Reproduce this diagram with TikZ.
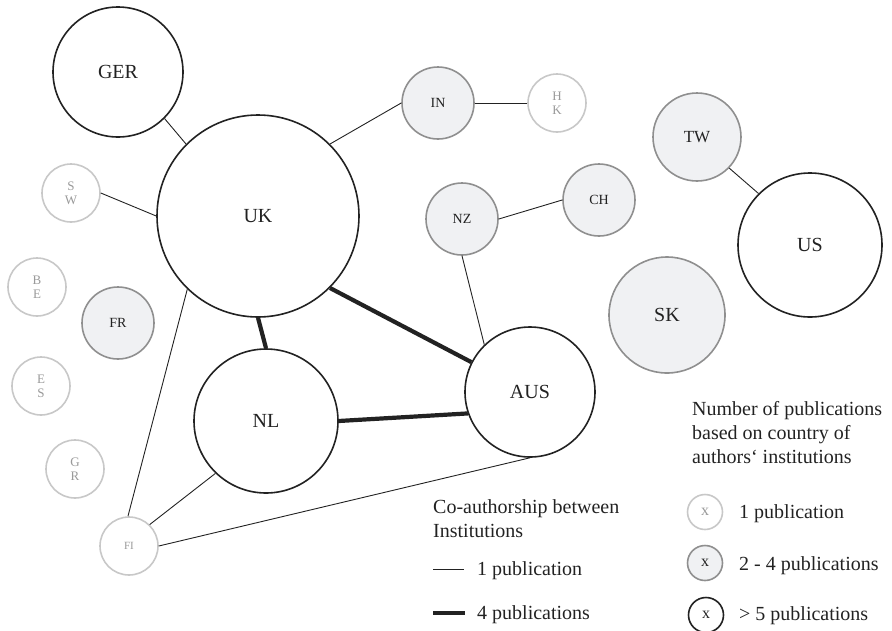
\documentclass[tikz,border=0pt]{standalone}
\usepackage{fontspec}
\setmainfont{Liberation Serif}
\definecolor{inkc}{HTML}{222222}
\definecolor{midline}{HTML}{8F8F8F}
\definecolor{midfill}{HTML}{F0F1F3}
\definecolor{lowline}{HTML}{C8C8C8}
\definecolor{lowtext}{HTML}{9A9A9A}
\tikzset{
  bigc/.style={circle,draw=inkc,line width=1.6pt,fill=white,inner sep=0pt,text=inkc,font=\fontsize{20}{24}\selectfont},
  midc/.style={circle,draw=midline,line width=1.6pt,fill=midfill,inner sep=0pt,text=inkc,font=\fontsize{14}{16}\selectfont},
  lowc/.style={circle,draw=lowline,line width=1.6pt,fill=white,inner sep=0pt,text=lowtext,align=center,font=\fontsize{13}{14}\selectfont},
  onepub/.style={draw=inkc,line width=0.9pt},
  fourpub/.style={draw=inkc,line width=4.2pt},
  legtext/.style={anchor=base west,inner sep=0pt,text=inkc,font=\fontsize{20}{24}\selectfont}
}
\begin{document}
\begin{tikzpicture}[x=1pt,y=-1pt]
\useasboundingbox (0,0) rectangle (892,630);
\node[bigc,minimum size=130pt] (GER) at (118,72) {GER};
\node[bigc,minimum size=202pt] (UK) at (258,216) {UK};
\node[bigc,minimum size=144pt] (NL) at (266,421) {NL};
\node[bigc,minimum size=130pt] (AUS) at (530,392) {AUS};
\node[bigc,minimum size=144pt] (US) at (810,245) {US};
\node[midc,minimum size=116pt,font=\fontsize{20}{24}\selectfont] (SK) at (667,315) {SK};
\node[midc,minimum size=88pt,font=\fontsize{17}{20}\selectfont] (TW) at (697,137) {TW};
\node[midc,minimum size=72pt] (IN) at (438,103) {IN};
\node[midc,minimum size=72pt] (NZ) at (462,219) {NZ};
\node[midc,minimum size=72pt] (CH) at (599,200) {CH};
\node[midc,minimum size=72pt] (FR) at (118,323) {FR};
\node[lowc,minimum size=58pt] (HK) at (557,103) {H\\K};
\node[lowc,minimum size=58pt] (SW) at (71,193) {S\\W};
\node[lowc,minimum size=58pt] (BE) at (37,287) {B\\E};
\node[lowc,minimum size=58pt] (ES) at (41,386) {E\\S};
\node[lowc,minimum size=58pt] (GR) at (75,469) {G\\R};
\node[lowc,minimum size=58pt,font=\fontsize{11}{13}\selectfont] (FI) at (129,546) {FI};
\draw[onepub] (GER.315) -- (UK.135);
\draw[onepub] (SW.0) -- (UK.180);
\draw[onepub] (UK.45) -- (IN.180);
\draw[onepub] (IN.0) -- (HK.180);
\draw[onepub] (NZ.0) -- (CH.180);
\draw[onepub] (NZ.270) -- (AUS.134);
\draw[onepub] (TW.316) -- (US.135);
\draw[onepub] (UK.226) -- (FI.92);
\draw[onepub] (NL.226) -- (FI.46);
\draw[onepub] (AUS.270) -- (FI.0);
\draw[fourpub] (UK.270) -- (NL.90);
\draw[fourpub] (UK.315) -- (AUS.153);
\draw[fourpub] (NL.0) -- (AUS.199);
\node[legtext] (cohead) at (433,513) {Co-authorship between};
\node[legtext] (cohead2) at (433,537) {Institutions};
\coordinate (onea) at (433,569);
\coordinate (oneb) at (464,569);
\coordinate (foura) at (433,613);
\coordinate (fourb) at (465,613);
\draw[onepub] (onea) -- (oneb);
\draw[fourpub] (foura) -- (fourb);
\node[legtext] (onelab) at (477,575) {1 publication};
\node[legtext] (fourlab) at (477,619) {4 publications};
\node[legtext] (nohead) at (692,415) {Number of publications};
\node[legtext] (nohead2) at (692,439) {based on country of};
\node[legtext] (nohead3) at (692,463) {authors‘ institutions};
\node[lowc,minimum size=35pt,font=\fontsize{16}{18}\selectfont] (keylow) at (705,512) {x};
\node[midc,minimum size=35pt,font=\fontsize{16}{18}\selectfont] (keymid) at (705,563) {x};
\node[bigc,minimum size=35pt,font=\fontsize{16}{18}\selectfont] (keybig) at (706,615) {x};
\node[legtext] (keylowlab) at (739,518) {1 publication};
\node[legtext] (keymidlab) at (739,570) {2 - 4 publications};
\node[legtext] (keybiglab) at (739,620) {> 5 publications};
\end{tikzpicture}
\end{document}
